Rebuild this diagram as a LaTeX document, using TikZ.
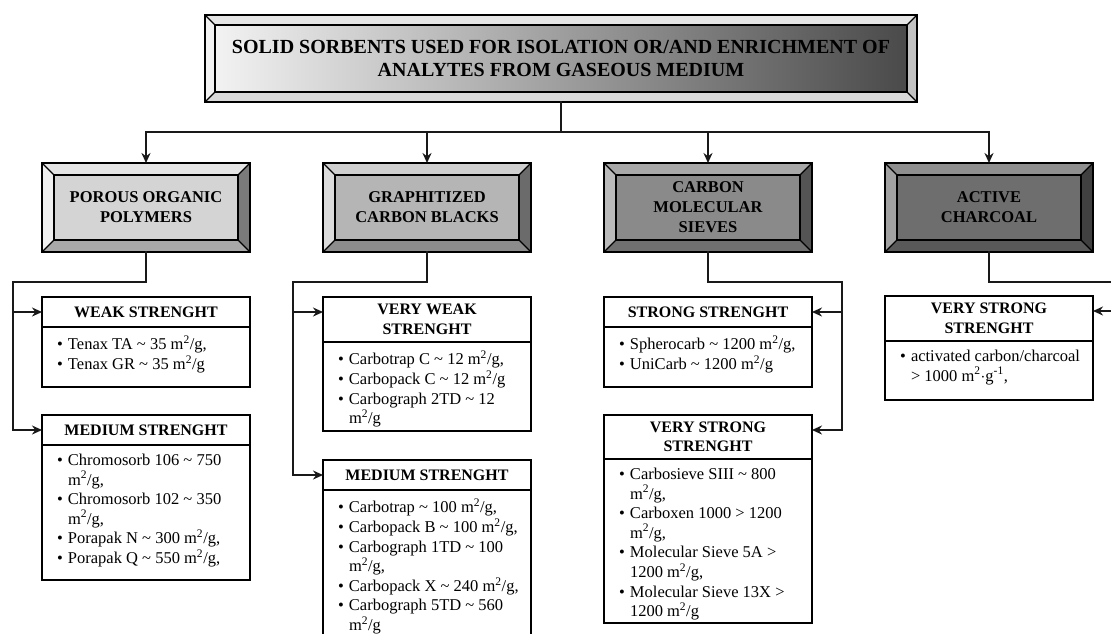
\documentclass[tikz,border=0pt]{standalone}
\usepackage{fontspec}
\setmainfont{Liberation Serif}
\usetikzlibrary{calc,positioning,arrows.meta}

% bevel colours: face, top, left, right, bottom
\definecolor{Pface}{gray}{0.83}\definecolor{Ptop}{gray}{0.90}\definecolor{Pleft}{gray}{0.94}\definecolor{Pright}{gray}{0.48}\definecolor{Pbot}{gray}{0.66}
\definecolor{Gface}{gray}{0.71}\definecolor{Gtop}{gray}{0.81}\definecolor{Gleft}{gray}{0.86}\definecolor{Gright}{gray}{0.42}\definecolor{Gbot}{gray}{0.55}
\definecolor{Cface}{gray}{0.54}\definecolor{Ctop}{gray}{0.66}\definecolor{Cleft}{gray}{0.73}\definecolor{Cright}{gray}{0.33}\definecolor{Cbot}{gray}{0.44}
\definecolor{Aface}{gray}{0.43}\definecolor{Atop}{gray}{0.56}\definecolor{Aleft}{gray}{0.63}\definecolor{Aright}{gray}{0.25}\definecolor{Abot}{gray}{0.35}
\definecolor{Stop}{gray}{0.90}\definecolor{Sleft}{gray}{0.95}\definecolor{Sright}{gray}{0.76}\definecolor{Sbot}{gray}{0.85}

% bevelled frame round a node: [width]{node}{top}{left}{right}{bottom}
\newcommand{\bevel}[6][12]{%
  \fill[#3] (#2.north west) -- (#2.north east) -- ($(#2.north east)+(-#1,#1)$) -- ($(#2.north west)+(#1,#1)$) -- cycle;
  \fill[#4] (#2.north west) -- ($(#2.north west)+(#1,#1)$) -- ($(#2.south west)+(#1,-#1)$) -- (#2.south west) -- cycle;
  \fill[#5] (#2.north east) -- ($(#2.north east)+(-#1,#1)$) -- ($(#2.south east)+(-#1,-#1)$) -- (#2.south east) -- cycle;
  \fill[#6] (#2.south west) -- ($(#2.south west)+(#1,-#1)$) -- ($(#2.south east)+(-#1,-#1)$) -- (#2.south east) -- cycle;
  \draw[line width=1.2pt] ($(#2.north west)+(#1,#1)$) rectangle ($(#2.south east)+(-#1,-#1)$);
  \draw[line width=1.2pt] (#2.north west) -- ++(#1,#1) (#2.north east) -- ++(-#1,#1)
        (#2.south west) -- ++(#1,-#1) (#2.south east) -- ++(-#1,-#1);
  \draw[line width=1.8pt] (#2.north west) rectangle (#2.south east);
}
\newcommand{\bodytext}[2]{\begin{minipage}[c][#1pt][t]{190pt}\fontsize{16.5}{19.6}\selectfont
  \parindent=0pt\leftskip=17pt\vspace*{9pt}#2\end{minipage}}
\newcommand{\itm}{\par\hspace*{-11pt}\makebox[11pt][l]{\textbullet}}
\newcommand{\msq}{m\textsuperscript{2}/g}

\tikzset{
  catbox/.style={minimum width=208pt, minimum height=89pt, outer sep=0pt, align=center,
    font=\bfseries\fontsize{16.5}{20}\selectfont},
  hdr/.style={draw, line width=1.6pt, fill=white, minimum width=208pt, minimum height=30pt,
    inner sep=2pt, outer sep=0pt, align=center, font=\bfseries\fontsize{16}{19.5}\selectfont},
  bodybox/.style={draw, line width=1.6pt, minimum width=208pt, inner sep=0pt, outer sep=0pt, anchor=north},
  conn/.style={line width=2.2pt, draw=black!90, line cap=rect}
}

\begin{document}
\begin{tikzpicture}[x=1pt,y=-1pt,>={Stealth[length=10pt,width=9pt]}]
  \fill[white] (0,0) rectangle (1111,633);
  \path[use as bounding box] (0,0) rectangle (1111,633);
  \clip (0,0) rectangle (1111,633);

  % title
  \node[minimum width=712pt, minimum height=87pt, outer sep=0pt, align=center,
        left color=black!4, middle color=black!20, right color=black!72,
        font=\bfseries\fontsize{20}{23}\selectfont] (S) at (561,58.5)
        {SOLID SORBENTS USED FOR ISOLATION OR/AND ENRICHMENT OF\\ANALYTES FROM GASEOUS MEDIUM};
  \bevel[10]{S}{Stop}{Sleft}{Sright}{Sbot}

  % sorbent groups
  \node[catbox, fill=Pface] (P) at (146,207.5) {POROUS ORGANIC\\POLYMERS};
  \node[catbox, fill=Gface, right=73pt of P] (G) {GRAPHITIZED\\CARBON BLACKS};
  \node[catbox, fill=Cface, right=73pt of G] (C) {CARBON\\MOLECULAR\\SIEVES};
  \node[catbox, fill=Aface, right=73pt of C] (A) {ACTIVE\\CHARCOAL};
  \bevel{P}{Ptop}{Pleft}{Pright}{Pbot}
  \bevel{G}{Gtop}{Gleft}{Gright}{Gbot}
  \bevel{C}{Ctop}{Cleft}{Cright}{Cbot}
  \bevel{A}{Atop}{Aleft}{Aright}{Abot}

  % strength boxes
  \node[hdr, below=45pt of P] (P1) {WEAK STRENGHT};
  \node[bodybox] (P1t) at (P1.south) {\bodytext{60}{\itm Tenax TA \textasciitilde\ 35 \msq,\itm Tenax GR \textasciitilde\ 35 \msq}};
  \node[hdr, below=28pt of P1t] (P2) {MEDIUM STRENGHT};
  \node[bodybox] (P2t) at (P2.south) {\bodytext{135}{\itm Chromosorb 106 \textasciitilde\ 750\\\msq,
    \itm Chromosorb 102 \textasciitilde\ 350\\\msq,\itm Porapak N \textasciitilde\ 300 \msq,\itm Porapak Q \textasciitilde\ 550 \msq,}};

  \node[hdr, minimum height=45pt, below=45pt of G] (G1) {VERY WEAK\\STRENGHT};
  \node[bodybox] (G1t) at (G1.south) {\bodytext{89}{\itm Carbotrap C \textasciitilde\ 12 \msq,\itm Carbopack C \textasciitilde\ 12 \msq
    \itm Carbograph 2TD \textasciitilde\ 12\\\msq}};
  \node[hdr, below=29pt of G1t] (G2) {MEDIUM STRENGHT};
  \node[bodybox] (G2t) at (G2.south) {\bodytext{160}{\itm Carbotrap \textasciitilde\ 100 \msq,\itm Carbopack B \textasciitilde\ 100 \msq,
    \itm Carbograph 1TD \textasciitilde\ 100\\\msq,\itm Carbopack X \textasciitilde\ 240 \msq,\itm Carbograph 5TD \textasciitilde\ 560\\\msq}};

  \node[hdr, below=45pt of C] (C1) {STRONG STRENGHT};
  \node[bodybox] (C1t) at (C1.south) {\bodytext{60}{\itm Spherocarb \textasciitilde\ 1200 \msq,\itm UniCarb \textasciitilde\ 1200 \msq}};
  \node[hdr, minimum height=44pt, below=28pt of C1t] (C2) {VERY STRONG\\STRENGHT};
  \node[bodybox] (C2t) at (C2.south) {\bodytext{164}{\itm Carbosieve SIII \textasciitilde\ 800\\\msq,
    \itm Carboxen 1000 > 1200\\\msq,\itm Molecular Sieve 5A >\\1200 \msq,\itm Molecular Sieve 13X >\\1200 \msq}};

  \node[hdr, minimum height=45pt, below=44pt of A] (A1) {VERY STRONG\\STRENGHT};
  \node[bodybox] (A1t) at (A1.south) {\bodytext{59}{\itm activated carbon/charcoal\\> 1000 m\textsuperscript{2}$\cdot$g\textsuperscript{-1},}};

  % connectors
  \begin{scope}[conn]
    \coordinate (B) at ($(S.south)+(0,30)$);
    \draw (S.south) -- (B);
    \foreach \n in {P,G,C,A}
      \draw[->] (B) -| (\n.north);
    \coordinate (R1) at ($(P.south)+(-133,30)$);
    \coordinate (R2) at ($(G.south)+(-134,30)$);
    \coordinate (R3) at ($(C.south)+(134,30)$);
    \coordinate (R4) at ($(A.south)+(133,30)$);
    \draw (P.south) |- (R1);
    \draw (G.south) |- (R2);
    \draw (C.south) |- (R3);
    \draw (A.south) |- (R4);
    \draw[->] (R1) |- ($(P1.north west)+(0,15)$);
    \draw[->] (R1) |- ($(P2.north west)+(0,15)$);
    \draw[->] (R2) |- ($(G1.north west)+(0,15)$);
    \draw[->] (R2) |- ($(G2.north west)+(0,15)$);
    \draw[->] (R3) |- ($(C1.north east)+(0,15)$);
    \draw[->] (R3) |- ($(C2.north east)+(0,15)$);
    \draw[->] (R4) |- ($(A1.north east)+(0,15)$);
  \end{scope}
\end{tikzpicture}
\end{document}
